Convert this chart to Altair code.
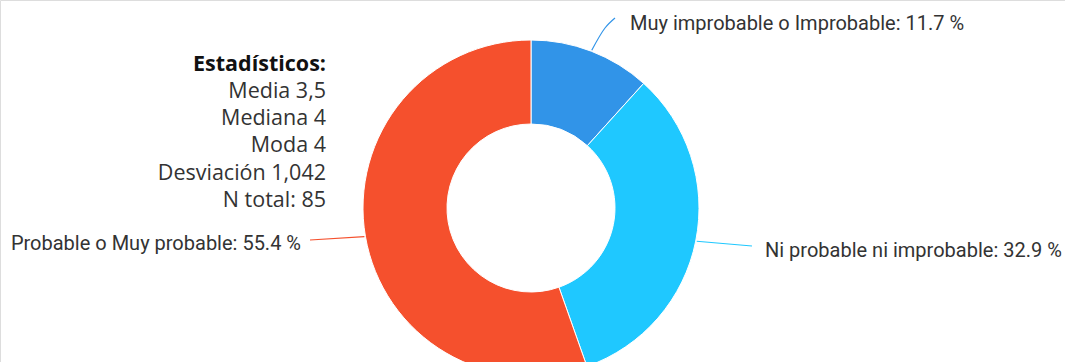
import math
import altair as alt
import pandas as pd

# Survey answers and their shares (%)
categorias = [
    "Muy improbable o Improbable",
    "Ni probable ni improbable",
    "Probable o Muy probable",
]
porcentajes = [11.7, 32.9, 55.4]
colores = ["#3194e8", "#1fc8ff", "#f5502d"]

# Summary statistics block
estadisticos_titulo = "Estadísticos:"
estadisticos = ["Media 3,5\u00a0", "Mediana 4", "Moda 4", "Desviación 1,042", "N total: 85"]

# Donut geometry (pixels)
CX, CY = 531, 208
R_OUT, R_IN = 168, 84

# Label anchors and leader-line bends, per slice
label_layout = {
    "Muy improbable o Improbable": dict(x=630, y=30, align="left", path=[(605, 28), (615, 18)]),
    "Ni probable ni improbable": dict(x=765, y=257, align="left", path=[(752, 246)]),
    "Probable o Muy probable": dict(x=301, y=250, align="right", path=[(310, 240)]),
}

df = pd.DataFrame({"categoria": categorias, "valor": porcentajes, "orden": range(len(categorias))})
df["etiqueta"] = [f"{c}: {v} %" for c, v in zip(categorias, porcentajes)]

# Leader lines start on the outer rim at each slice's mid angle
total = sum(porcentajes)
rows = []
acum = 0.0
for c, v in zip(categorias, porcentajes):
    mid = (acum + v / 2) / total * 2 * math.pi
    acum += v
    pts = [(CX + (R_OUT + 1) * math.sin(mid), CY - (R_OUT + 1) * math.cos(mid))]
    pts += label_layout[c]["path"]
    for i, (px, py) in enumerate(pts):
        rows.append({"categoria": c, "i": i, "px": px, "py": py})
lineas = pd.DataFrame(rows)

color_scale = alt.Scale(domain=categorias, range=colores)

donut = alt.Chart(df).mark_arc(
    outerRadius=R_OUT, innerRadius=R_IN, x=CX, y=CY, stroke="white", strokeWidth=1
).encode(
    theta=alt.Theta("valor:Q", stack=True),
    order=alt.Order("orden:Q"),
    color=alt.Color("categoria:N", scale=color_scale, legend=None),
)

guias = alt.Chart(lineas).mark_line(strokeWidth=1.2, interpolate="monotone").encode(
    x=alt.X("px:Q", scale=None, axis=None),
    y=alt.Y("py:Q", scale=None, axis=None),
    detail="categoria:N",
    order="i:Q",
    color=alt.Color("categoria:N", scale=color_scale, legend=None),
)

capas = [guias, donut]

for c, texto in zip(categorias, df["etiqueta"]):
    lay = label_layout[c]
    capas.append(
        alt.Chart(pd.DataFrame({"t": [texto]})).mark_text(
            font="Roboto", fontSize=20, color="#333333", align=lay["align"], baseline="alphabetic"
        ).encode(text="t:N", x=alt.value(lay["x"]), y=alt.value(lay["y"]))
    )

# Statistics block, right aligned
capas.append(
    alt.Chart(pd.DataFrame({"t": [estadisticos_titulo]})).mark_text(
        font="Open Sans", fontSize=21.5, fontWeight="bold", color="#111111", align="right", baseline="alphabetic"
    ).encode(text="t:N", x=alt.value(326), y=alt.value(71))
)
baselines = [98, 125, 152, 180, 207]
stats_df = pd.DataFrame({"t": estadisticos, "fila": range(len(estadisticos))})
stats_df["yb"] = baselines
capas.append(
    alt.Chart(stats_df).mark_text(
        font="Open Sans", fontSize=21.5, color="#333333", align="right", baseline="alphabetic"
    ).encode(text="t:N", x=alt.value(326), y=alt.Y("yb:Q", scale=None, axis=None))
)

chart = alt.layer(*capas).properties(
    width=1065, height=362, padding=0,
    autosize=alt.AutoSizeParams(type="none"),
).configure_view(stroke=None).configure(background="white")

chart.save("out.html", embed_options={"renderer": "svg", "actions": False})
